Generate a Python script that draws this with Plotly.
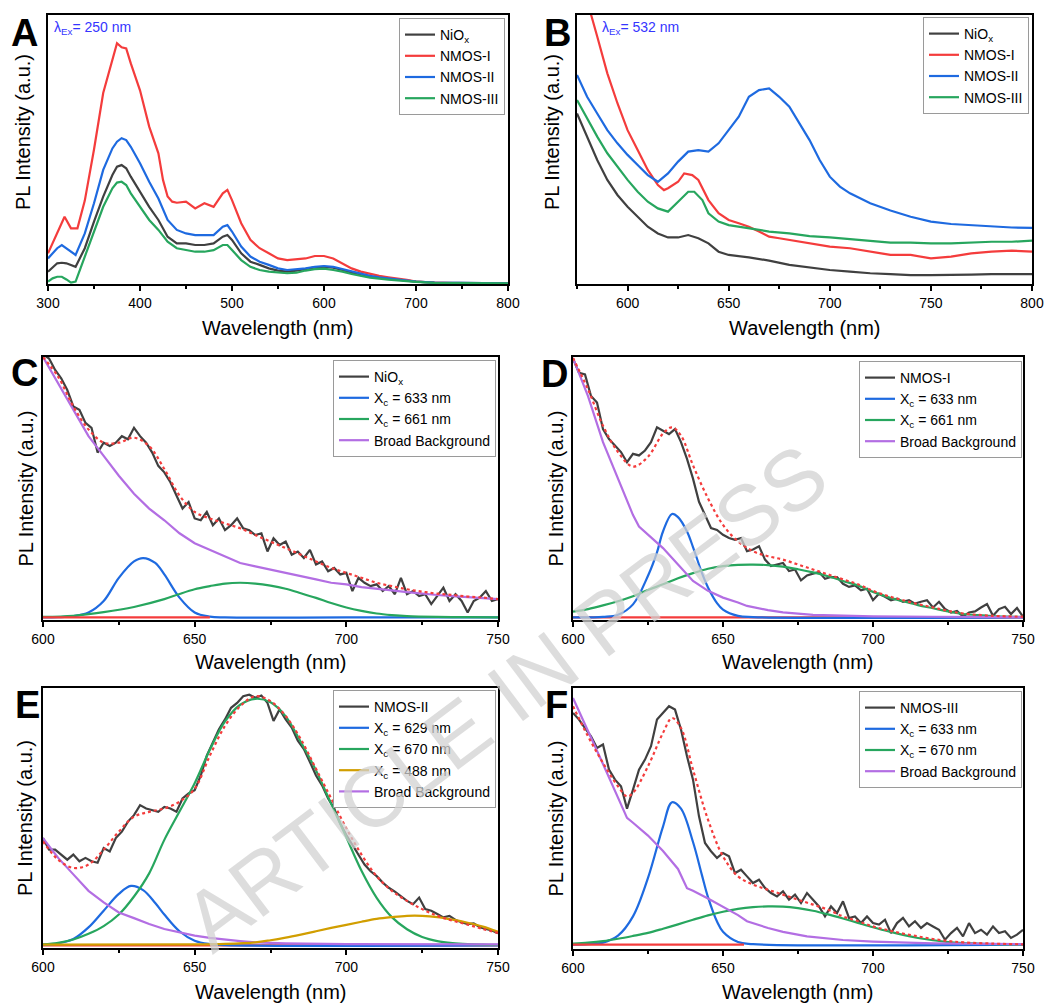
import plotly.graph_objects as go

# ---------------- Panel A (lambda_Ex = 250 nm) ----------------
a_nio_x = [300,310,315,320,330,340,350,360,370,375,380,385,390,400,410,420,430,440,450,460,470,480,490,495,500,510,520,530,540,550,560,570,580,590,600,610,620,630,640,650,660,670,680,700,720,800]
a_nio_y = [4.6,7.7,7.9,7.7,6.4,13.3,23.2,32.5,40.5,43.6,44.2,43,39.9,34.3,28.7,23.8,17.6,15.1,15.1,14.5,14.5,15.1,17.6,18.2,16.4,11.4,8.3,7.1,5.8,5.0,4.6,5.0,5.5,6.2,6.4,6.1,5.2,4.2,3.3,2.7,2.4,2.0,1.6,0.9,0.5,0.25]
a_n1_x = [300,310,318,325,332,340,350,360,370,375,380,385,390,400,410,420,425,430,435,440,450,460,470,480,490,495,500,510,520,530,540,550,560,570,580,590,600,610,620,630,640,650,660,670,680,690,700,720,750,800]
a_n1_y = [11.4,18.8,25,20.7,20.7,31,50,71,84,89.5,88,87.6,82,72,58.5,48.6,38.7,32.5,30.6,30.2,30.6,28.1,30,28.7,33.7,35,31.2,22.6,16.4,13.3,11.4,9.5,8.9,9.2,9.5,10.4,10.4,9.5,7.7,5.8,4.6,3.7,3.0,2.5,2.1,1.5,0.9,0.5,0.25,0.25]
a_n2_x = [300,310,315,320,330,340,350,360,370,375,380,385,390,400,410,420,430,440,450,460,470,480,490,495,500,510,520,530,540,550,560,570,580,590,600,610,620,630,640,650,660,670,680,690,700,720,800]
a_n2_y = [9.5,13.3,14.5,13.3,10.8,18.8,30,42.4,50.4,52.9,54.2,53.5,51,44.9,38,31.8,23.8,20.1,18.8,18.2,18.2,18.2,21.3,21.9,19.5,13.9,10.2,8.3,7.1,5.8,5.2,5.5,5.8,6.4,6.7,6.4,5.5,4.6,3.7,3.0,2.5,2.1,1.7,1.5,0.9,0.5,0.25]
a_n3_x = [300,305,310,315,320,325,330,340,350,360,370,375,380,385,390,400,410,420,430,440,450,460,470,480,490,495,500,510,520,530,540,550,560,570,580,590,600,610,620,630,640,650,660,670,700,720,800]
a_n3_y = [0.9,2.1,2.7,2.7,1.7,0.5,0.9,10.2,20,28.7,35.6,37.7,38,36.8,33.7,28.7,23.8,20.1,15.7,13.3,12.6,12,12,12.6,14.5,14.5,12.6,8.9,6.4,5.2,4.6,4.2,4.0,4.2,5.0,5.5,5.7,5.2,4.6,3.7,3.0,2.4,2.0,1.6,0.8,0.4,0.2]

# ---------------- Panel B (lambda_Ex = 532 nm) ----------------
b_nio_x = [575,580,585,590,595,600,605,610,615,620,625,630,635,640,645,650,660,670,680,690,700,710,720,730,740,750,760,770,780,790,800]
b_nio_y = [63.4,54.8,46.1,38.7,33.1,28.7,25,21.3,18.8,17.3,17.3,18.2,17,15.1,12,10.8,9.9,8.7,7.1,6.2,5.2,4.6,4.0,3.7,3.3,3.3,3.3,3.5,3.7,3.7,3.7]
b_n1_x = [575,582,585,590,595,600,605,610,615,618,620,625,628,632,635,640,645,650,655,660,665,670,675,680,690,700,710,720,730,740,750,760,770,780,790,800]
b_n1_y = [112,100,92,78.3,67.2,57.2,49.8,42.4,36.8,34.9,35.6,38,41.1,40.5,38.7,31.2,26.3,23.8,22.6,21.3,19.5,17.6,17,16.4,15.1,13.9,13.3,12,10.8,10.8,9.5,10.2,11.4,12,12.4,12]
b_n2_x = [575,580,585,590,595,600,605,610,615,620,625,630,635,640,645,650,655,660,665,670,675,680,685,690,695,700,705,710,720,730,740,750,760,770,780,790,800]
b_n2_y = [77.7,69.6,63.4,57.2,52.3,48,44.2,40.5,38,41.1,45.5,49.2,49.8,49.2,52.3,57.2,62.2,69.6,72.1,72.7,69.6,65.9,59.7,53.5,46.1,39.9,36.2,33.7,30,27.3,25,23.2,22.3,21.9,21.3,21,20.9]
b_n3_x = [575,580,585,590,595,600,605,610,615,620,625,630,633,637,640,645,650,660,670,680,690,700,710,720,730,740,750,760,770,780,790,800]
b_n3_y = [68.4,61.6,54.8,48.6,43.6,38.7,34.3,30.6,28.1,26.9,30.6,34.3,34.3,31.2,26.3,23.2,21.9,20.7,19.5,18.8,17.8,17.3,16.6,16.1,15.4,15.4,15.1,15.1,15.4,15.7,15.7,16.1]

# ---------------- Fitted panels C-F (600-750 nm) ----------------
wl2 = list(range(600, 751, 2))
wl5 = list(range(600, 751, 5))

c_data = [101,99.4,95,91.8,87.3,81,79.7,74.7,72.8,63.3,67.1,65.8,67.1,69.6,68.4,72.8,69.6,67.1,63.3,58.2,55.7,51.9,46.8,41.8,44.3,38,37.3,40.5,35.4,38,33.5,35.4,38,34.2,33.5,31.6,32.3,25.3,30.4,27.8,29.1,24.1,25.3,22.8,25.9,20.3,21.5,17.7,19,16.5,17.1,10.1,15.2,13.3,12,12.7,10.1,12,8.9,15.2,8.9,10.1,8.2,8.9,5.1,8.2,11.4,6.3,8.9,6.3,1.9,6.3,7.6,10.1,6.3,7]
c_fit = [100,92.4,81,72.2,67.1,67.1,69,65.8,57,46.8,40.5,38,36.1,34.2,31.6,29.1,26.6,24.1,21.5,19,17.1,15.2,13.3,12,10.8,9.9,9.1,8.6,8,7.6,7]
c_bg = [100,89.9,79.7,69.6,62,54.4,47.5,41.8,37.3,32.3,28.5,25.9,23.4,20.9,19.6,18.4,17.1,15.8,14.6,13.3,12.7,11.6,11.1,10.4,9.7,9.1,8.6,8.2,7.8,7.3,7]
c_p1_x = [600,605,610,615,620,625,630,633,637,640,645,650,655,660,700,750]
c_p1_y = [0,0.1,0.5,1.9,6.3,15.2,21.5,22.8,20.9,16.5,7.6,1.9,0.3,0,0,0]
c_p2_x = [600,610,620,630,640,645,650,655,660,665,670,675,680,685,690,695,700,705,710,715,720,730,740,750]
c_p2_y = [0.2,0.6,2,4,7,9,10.8,12,13,13.3,13,12.2,11,9.3,7.5,5.5,3.8,2.5,1.5,0.9,0.5,0.2,0.1,0]
c_base_x = [600, 655]

d_data = [99.4,93.9,93.3,85,82.5,72.3,68.5,66,63.5,59.6,62.8,62.2,64.1,67.3,73,71.7,70.4,72.3,67.3,60.9,53.3,44.4,39.3,34.3,33.6,31.7,30.5,29.8,30.5,25.4,26.1,27.3,22.2,19.7,20.3,20.9,17.8,18.4,14.2,16.1,16.8,17.4,14.8,15.5,15.5,12.9,11.7,12.3,10.4,11,6.6,9.1,7.9,6.6,7.2,6,6.6,5.3,6,6.6,3.8,6,3.2,1.9,2.5,0.3,1.9,2.3,3.8,5.1,0.6,3.2,4.1,1.3,3.6,0.3]
d_fit_x = [600,605,610,615,620,625,630,633,636,640,645,650,655,660,665,670,675,680,685,690,695,700,705,710,715,720,725,730,740,750]
d_fit_y = [99.6,87.6,73.6,63.5,57.9,61.7,70.6,73,69.8,58.4,45.7,35.5,29.2,25.4,23.5,22.2,20.3,18.4,16.5,14.6,12.7,10.2,8.2,6.6,5.1,3.8,2.5,1.5,0.6,0.3]
d_bg_x = [600,605,610,615,620,622,625,630,635,640,645,650,655,658,665,670,680,690,700,720,750]
d_bg_y = [99.6,85,67.3,53.3,39.3,34.9,31.7,26.6,20.3,14,10.2,7.6,5.7,4.4,2.8,1.9,1,0.6,0.4,0.25,0.1]
d_p1_x = [600,610,615,620,625,628,630,633,635,638,640,643,645,648,650,655,660,750]
d_p1_y = [0,0.2,1,5,16,25,33,39.7,38.5,33,27,17,11.5,5.5,3,0.6,0.1,0]
d_p2 = [2.2,3.2,4.6,6.2,8.1,10.5,12.7,15,17,18.7,19.7,20.2,20.3,20.1,19.5,18.5,17.3,15.8,14,12.2,9.8,7.8,6.2,4.7,3.5,2.3,1.3,0.9,0.5,0.3,0.2]
d_base_x = [600, 750]

e_data = [41.7,37.2,37.2,35.3,33.3,35.3,32.7,34,32.7,32.1,37.8,36.5,41.7,44.2,48.1,50.6,54.5,53.2,52.6,51.9,53.8,53.2,51.9,57.1,59,60.3,66,73.7,78.8,84,87.8,92.3,94.2,96.8,97.4,96.2,97.1,94.2,87.2,91.7,87.8,84.6,79.5,76.3,71.2,66,62.2,57.1,53.2,47.4,42.9,39.1,35.3,31.4,28.8,26.9,24.4,22.4,20.9,19.2,17.3,16,18.6,14.1,13.5,12.2,10.9,11.5,9.9,9,8.3,8.6,7.1,6.4,5.8,4.7]
e_fit = [40.4,33.3,30.1,31.4,37.2,44.2,50,51.9,53.2,55.8,60.9,73.7,85.3,92.9,96.8,94.9,89.1,80.1,68.6,57.1,45.5,35.3,26.9,21.2,17.3,14.1,11.5,9.6,8.1,6.4,4.9]
e_p2 = [0.4,1,2.3,4.5,7.5,12,19,28,41,52,63,76,87,93.5,95.8,94.5,89,79,68,55,42,29,18.5,11,6.3,3.3,1.7,0.9,0.5,0.3,0.2]
e_p1_x = [600,605,610,615,620,625,629,633,637,640,645,650,655,660,750]
e_p1_y = [0.2,0.8,2.5,7,13.5,20,23.1,21.5,16.5,12,5.5,1.8,0.5,0.1,0]
e_p3_x = [600,650,660,670,675,680,685,690,695,700,705,710,715,720,725,730,735,740,745,750]
e_p3_y = [0.3,0.4,0.6,1.2,2,3,4.2,5.5,6.8,8,9.2,10.3,11,11.5,11.5,11,10,8.8,7.3,5.3]
e_bg_x = [600,605,610,615,620,625,630,635,640,645,650,655,660,665,670,680,700,750]
e_bg_y = [41.7,34,27.6,21.2,16.7,12.8,10.6,8.3,6.4,5.1,3.8,2.9,2.2,1.7,1.2,0.8,0.5,0.4]
e_base_x = [600, 750]

f_data = [90.3,87.7,84.4,81.2,76.6,78,68.2,64.3,61.7,53,60.4,68.2,72.1,77.3,87.7,90.3,92.9,91.6,83.8,73.4,64.3,50,39.6,36.4,33.8,35.7,34.4,27.9,29.2,26.6,24,25.3,22.1,20.1,18.8,20.8,17.5,19.5,16.2,20.1,17.5,14.9,11,14.9,12.3,16.9,10.4,11,8.4,11,8.4,7.8,9.7,4.5,8.4,10.4,7.1,9.1,6.5,8.4,7.1,5.8,1.9,4.5,6.5,3.2,8.4,4.5,5.8,3.9,7.1,4.5,5.2,2.6,3.9,5.8]
f_fit_x = [600,605,610,615,618,620,625,630,633,636,640,645,650,655,660,665,670,675,680,685,690,695,700,705,710,715,720,725,730,740,750]
f_fit_y = [92.9,81.2,70.8,61.7,57.8,59.1,69.5,82.5,88.3,84.4,68.2,48.7,34.4,26.6,23.4,21.4,19.5,17.5,15.6,13.6,11,9.1,7.1,5.6,4.3,3.2,2.2,1.4,0.9,0.4,0.1]
f_bg_x = [600,605,610,615,618,620,625,630,635,638,640,645,650,655,658,665,670,678,690,700,720,750]
f_bg_y = [96.1,83.5,70.4,57.3,49.4,47.5,42.5,36.5,29.5,22,21,18,14.9,11.5,9.1,6.5,5,3.2,1.8,1.2,0.5,0.2]
f_p1_x = [600,605,610,615,620,625,630,633,636,640,643,645,648,650,655,660,750]
f_p1_y = [0,0.2,0.8,3.5,11,26,46,55.5,53,40,27,18.5,9,5,1,0.2,0]
f_p2 = [0.4,0.8,1.4,2.3,3.4,4.6,6.2,7.9,9.7,11.4,12.8,13.9,14.6,14.9,14.8,14.2,13.2,11.8,10.2,8.5,6.8,5.2,3.8,2.6,1.7,1.0,0.6,0.4,0.2,0.1,0.1]
f_base_x = [600, 657]

# ---------------- styling ----------------
BLACK = "#404040"
RED = "#f43c3c"
BLUE = "#1e6ae0"
GREEN = "#27a65e"
PURPLE = "#b36ee3"
GOLD = "#d19e00"
FONT = "Arial, Liberation Sans, sans-serif"
W, H = 1054, 1004

fig = go.Figure()

def line(x, y, color, name, ax, leg, show=True, dash="solid", shape="linear", width=2.2):
    fig.add_trace(go.Scatter(
        x=x, y=y, mode="lines", name=name,
        line=dict(color=color, width=width, dash=dash, shape=shape),
        xaxis="x" + ("" if ax == 1 else str(ax)),
        yaxis="y" + ("" if ax == 1 else str(ax)),
        legend="legend" + ("" if leg == 1 else str(leg)),
        showlegend=show, hoverinfo="skip"))

NIO = "NiO<sub>x</sub>"
# A
line(a_nio_x, a_nio_y, BLACK, NIO, 1, 1)
line(a_n1_x, a_n1_y, RED, "NMOS-I", 1, 1)
line(a_n2_x, a_n2_y, BLUE, "NMOS-II", 1, 1)
line(a_n3_x, a_n3_y, GREEN, "NMOS-III", 1, 1)
# B
line(b_nio_x, b_nio_y, BLACK, NIO, 2, 2)
line(b_n1_x, b_n1_y, RED, "NMOS-I", 2, 2)
line(b_n2_x, b_n2_y, BLUE, "NMOS-II", 2, 2)
line(b_n3_x, b_n3_y, GREEN, "NMOS-III", 2, 2)
# C
line(wl2, c_data, BLACK, NIO, 3, 3)
line(c_p1_x, c_p1_y, BLUE, "X<sub>c</sub> = 633 nm", 3, 3, shape="spline")
line(wl5, c_bg, PURPLE, "Broad Background", 3, 3, show=False)
line(c_p2_x, c_p2_y, GREEN, "X<sub>c</sub> = 661 nm", 3, 3, shape="spline")
fig.add_trace(go.Scatter(x=[None], y=[None], mode="lines", name="Broad Background",
                         line=dict(color=PURPLE, width=2.2), xaxis="x3", yaxis="y3",
                         legend="legend3"))
line(c_base_x, [0, 0], RED, "", 3, 3, show=False)
line(wl5, c_fit, RED, "", 3, 3, show=False, dash="dot", shape="spline")
# D
line(wl2, d_data, BLACK, "NMOS-I", 4, 4)
line(d_base_x, [0, 0], RED, "", 4, 4, show=False)
line(d_p1_x, d_p1_y, BLUE, "X<sub>c</sub> = 633 nm", 4, 4, shape="spline")
line(wl5, d_p2, GREEN, "X<sub>c</sub> = 661 nm", 4, 4, shape="spline")
line(d_bg_x, d_bg_y, PURPLE, "Broad Background", 4, 4)
line(d_fit_x, d_fit_y, RED, "", 4, 4, show=False, dash="dot", shape="spline")
# E
line(wl2, e_data, BLACK, "NMOS-II", 5, 5)
line(e_base_x, [0, 0], RED, "", 5, 5, show=False)
line(e_p1_x, e_p1_y, BLUE, "X<sub>c</sub> = 629 nm", 5, 5, shape="spline")
line(wl5, e_p2, GREEN, "X<sub>c</sub> = 670 nm", 5, 5, shape="spline")
line(e_bg_x, e_bg_y, PURPLE, "", 5, 5, show=False)
line(e_p3_x, e_p3_y, GOLD, "X<sub>c</sub> = 488 nm", 5, 5, shape="spline")
fig.add_trace(go.Scatter(x=[None], y=[None], mode="lines", name="Broad Background",
                         line=dict(color=PURPLE, width=2.2), xaxis="x5", yaxis="y5",
                         legend="legend5"))
line(wl5, e_fit, RED, "", 5, 5, show=False, dash="dot", shape="spline")
# F
line(wl2, f_data, BLACK, "NMOS-III", 6, 6)
line(f_p1_x, f_p1_y, BLUE, "X<sub>c</sub> = 633 nm", 6, 6, shape="spline")
line(wl5, f_p2, GREEN, "X<sub>c</sub> = 670 nm", 6, 6, shape="spline")
line(f_bg_x, f_bg_y, PURPLE, "Broad Background", 6, 6)
line(f_base_x, [0, 0], RED, "", 6, 6, show=False)
line(f_fit_x, f_fit_y, RED, "", 6, 6, show=False, dash="dot", shape="spline")

# panel boxes in pixels: (left, right, top, bottom)
boxes = {
    1: (48, 508, 15, 284),
    2: (577, 1032, 15, 284),
    3: (43, 498, 357, 620),
    4: (573, 1023, 357, 620),
    5: (43, 498, 688, 948),
    6: (573, 1023, 688, 949),
}
xranges = {1: [300, 800], 2: [575, 800], 3: [600, 750], 4: [600, 750], 5: [600, 750], 6: [600, 750]}
yranges = {1: [0, 100], 2: [0, 100], 3: [-1, 100], 4: [-1, 100], 5: [-1, 100], 6: [-1.7, 100]}
dticks = {1: 100, 2: 50, 3: 50, 4: 50, 5: 50, 6: 50}
tick0 = {1: 300, 2: 600, 3: 600, 4: 600, 5: 600, 6: 600}

layout = dict(width=W, height=H, autosize=False, margin=dict(l=0, r=0, t=0, b=0, pad=0, autoexpand=False),
              plot_bgcolor="white", paper_bgcolor="white",
              font=dict(family=FONT, color="black", size=14))
for i, (l, r, t, b) in boxes.items():
    sfx = "" if i == 1 else str(i)
    layout["xaxis" + sfx] = dict(
        domain=[l / W, r / W], range=xranges[i], anchor="y" + sfx, automargin=False,
        showline=True, linewidth=2, linecolor="black", mirror=True,
        ticks="outside", ticklen=5, tickwidth=1.5, tickcolor="black",
        tick0=tick0[i], dtick=dticks[i],
        minor=dict(ticks="outside", ticklen=3, tickwidth=1.5, tickcolor="black", dtick=dticks[i] / 2),
        showgrid=False, zeroline=False, tickfont=dict(size=14, family=FONT))
    layout["yaxis" + sfx] = dict(
        domain=[1 - b / H, 1 - t / H], range=yranges[i], anchor="x" + sfx, automargin=False,
        showline=True, linewidth=2, linecolor="black", mirror=True,
        showticklabels=False, ticks="", showgrid=False, zeroline=False)

leg_pos = {1: (505, 18), 2: (1029, 17), 3: (496, 360), 4: (1022, 361), 5: (496, 690), 6: (1022, 691)}
for i, (x, y) in leg_pos.items():
    key = "legend" if i == 1 else "legend" + str(i)
    layout[key] = dict(x=x / W, y=1 - y / H, xanchor="right", yanchor="top",
                       bgcolor="white", bordercolor="#9a9a9a", borderwidth=1,
                       font=dict(size=14, family=FONT, color="black"),
                       itemwidth=30, tracegroupgap=0)
fig.update_layout(**layout)

ann = []
def text(x, y, s, size, **kw):
    d = dict(x=x / W, y=1 - y / H, xref="paper", yref="paper", text=s, showarrow=False,
             font=dict(size=size, family=FONT, color=kw.pop("color", "black"),
                       weight=kw.pop("weight", "normal")))
    d.update(kw)
    ann.append(d)

# panel letters
for s, (x, y) in {"A": (24, 33), "B": (557, 33), "C": (24, 373), "D": (554, 374),
                  "E": (27, 705), "F": (556, 705)}.items():
    text(x, y, s, 38, weight="bold", xanchor="center", yanchor="middle")
# excitation labels
text(52, 28, "λ<sub>Ex</sub>= 250 nm", 14, color="#3535ff", xanchor="left", yanchor="middle")
text(600, 28, "λ<sub>Ex</sub>= 532 nm", 14, color="#3535ff", xanchor="left", yanchor="middle")
# axis titles
for i, (l, r, t, b) in boxes.items():
    xt = {1: 328, 2: 328, 3: 662, 4: 662, 5: 992, 6: 992}[i]
    text((l + r) / 2, xt, "Wavelength (nm)", 20, xanchor="center", yanchor="middle")
    yx = {1: 23, 2: 552, 3: 25, 4: 555, 5: 25, 6: 555}[i]
    yc = {1: 132, 2: 132}.get(i, (t + b) / 2)
    text(yx, yc, "PL Intensity (a.u.)", 20, textangle=-90, xanchor="center", yanchor="middle")
# watermark
text(505, 697, "ARTICLE IN PRESS", 85, color="rgba(210,210,210,0.75)", textangle=-37,
     xanchor="center", yanchor="middle")
fig.update_layout(annotations=ann)

fig.write_html("out.html")
